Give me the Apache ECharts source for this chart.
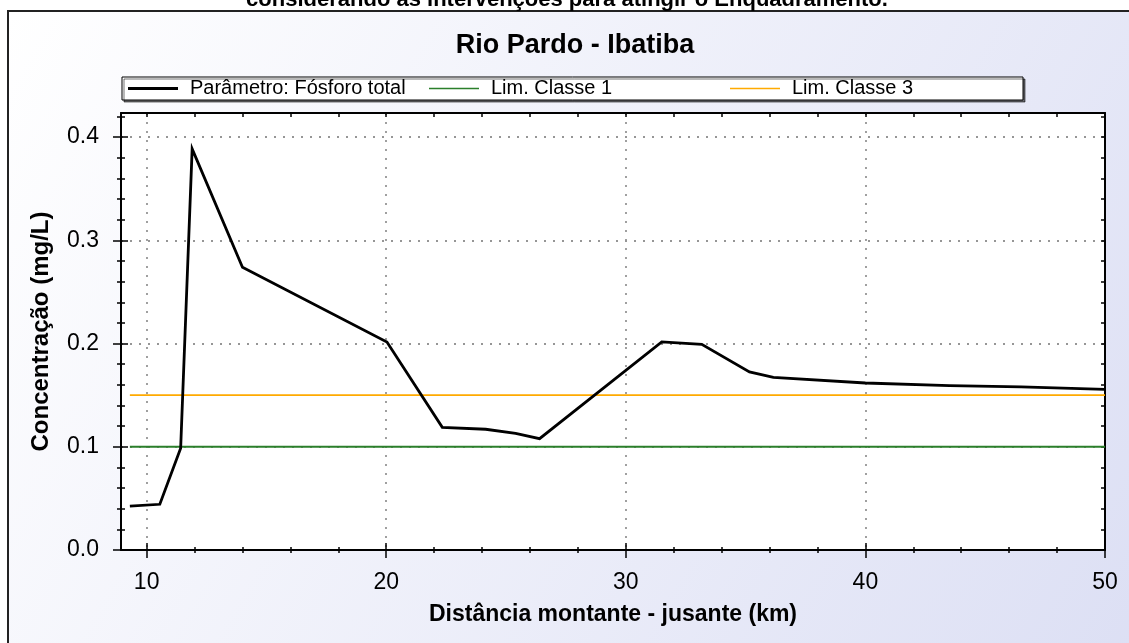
<!DOCTYPE html>
<html>
<head>
<meta charset="utf-8">
<title>Rio Pardo - Ibatiba</title>
<script src="https://cdn.jsdelivr.net/npm/echarts@6/dist/echarts.min.js"></script>
<style>
  html, body { margin: 0; padding: 0; background: #ffffff; }
  #chart { width: 1129px; height: 643px; }
</style>
</head>
<body>
<div id="chart"></div>
<script>
// Phosphorus profile along the river (distance in km, concentration in mg/L)
const distKm = [9.3, 10.55, 11.42, 11.9, 14.0, 20.03, 22.34, 24.15, 25.4, 26.4, 31.5, 33.17, 35.16, 36.16, 40.0, 43.5, 46.5, 50.0];
const fosforoTotal = [0.0426, 0.0443, 0.0985, 0.3886, 0.274, 0.2015, 0.1189, 0.117, 0.113, 0.1079, 0.2016, 0.1993, 0.1725, 0.1673, 0.1618, 0.1592, 0.158, 0.1557];

// Class limits (horizontal reference lines)
const limKm = [9.3, 50];
const limClasse1 = [0.1, 0.1];
const limClasse3 = [0.15, 0.15];

// Axis extents and tick positions
const xRange = [8.93, 50];
const yRange = [0, 0.4234];
const xMajor = [10, 20, 30, 40, 50];
const xMinor = [12, 14, 16, 18, 22, 24, 26, 28, 32, 34, 36, 38, 42, 44, 46, 48];
const xAll = [10, 12, 14, 16, 18, 20, 22, 24, 26, 28, 30, 32, 34, 36, 38, 40, 42, 44, 46, 48, 50];
const yMajor = [0, 0.1, 0.2, 0.3, 0.4];
const yMinor = [0.02, 0.04, 0.06, 0.08, 0.12, 0.14, 0.16, 0.18, 0.22, 0.24, 0.26, 0.28, 0.32, 0.34, 0.36, 0.38, 0.42];
const yAll = [0, 0.02, 0.04, 0.06, 0.08, 0.1, 0.12, 0.14, 0.16, 0.18, 0.2, 0.22, 0.24, 0.26, 0.28, 0.3, 0.32, 0.34, 0.36, 0.38, 0.4, 0.42];

const FONT = '"Liberation Sans", Arial, Helvetica, sans-serif';
const pairs = (xs, ys) => xs.map((x, i) => [x, ys[i]]);

const chart = echarts.init(document.getElementById('chart'), null, { renderer: 'canvas' });

const tickStyle = { color: '#000', width: 1.5 };
const gridLine = { show: true, lineStyle: { type: [2, 7], color: '#969696', width: 1.8 } };
const hidden = {
  type: 'value',
  axisLine: { show: false, onZero: false },
  axisTick: { show: false },
  axisLabel: { show: false },
  splitLine: { show: false }
};
function xAx(extra) {
  return Object.assign({}, hidden, { min: xRange[0], max: xRange[1], position: 'bottom' }, extra);
}
function yAx(extra) {
  return Object.assign({}, hidden, { min: yRange[0], max: yRange[1], position: 'left' }, extra);
}

const option = {
  backgroundColor: '#ffffff',
  animation: false,
  graphic: [
    {
      type: 'rect',
      z: -10,
      silent: true,
      shape: { x: 8, y: 11, width: 1140, height: 650 },
      style: {
        fill: {
          type: 'linear', x: 0, y: 0, x2: 1, y2: 1,
          colorStops: [
            { offset: 0, color: '#ffffff' },
            { offset: 1, color: '#dcdff4' }
          ]
        },
        stroke: '#222222',
        lineWidth: 2
      }
    },
    {
      type: 'text',
      z: 5,
      silent: true,
      x: 567, y: 11,
      style: {
        text: 'considerando as intervenções para atingir o Enquadramento.',
        font: 'bold 22px ' + FONT,
        fill: '#000',
        align: 'center',
        verticalAlign: 'bottom'
      }
    },
    {
      type: 'text',
      z: 5,
      silent: true,
      x: 575, y: 46,
      style: {
        text: 'Rio Pardo - Ibatiba',
        font: 'bold 27px ' + FONT,
        fill: '#000',
        align: 'center',
        verticalAlign: 'middle'
      }
    }
  ],
  legend: {
    left: 122,
    top: 77,
    orient: 'horizontal',
    selectedMode: false,
    backgroundColor: '#ffffff',
    borderColor: '#000000',
    borderWidth: 1,
    shadowColor: 'rgba(0,0,0,0.55)',
    shadowOffsetX: 2,
    shadowOffsetY: 2,
    shadowBlur: 0,
    padding: [1, 2, 1, 6],
    itemGap: 10,
    itemWidth: 50,
    itemHeight: 14,
    textStyle: {
      fontFamily: FONT,
      fontSize: 20,
      color: '#000',
      width: 229,
      lineHeight: 21,
      padding: [0, 0, 0, 7]
    },
    data: [
      { name: 'Parâmetro: Fósforo total', icon: 'path://M0,0L50,0L50,3L0,3Z', itemStyle: { color: '#000' } },
      { name: 'Lim. Classe 1', icon: 'path://M0,0L50,0L50,1.5L0,1.5Z', itemStyle: { color: '#2b7f2b' } },
      { name: 'Lim. Classe 3', icon: 'path://M0,0L50,0L50,1.5L0,1.5Z', itemStyle: { color: '#ffaa00' } }
    ]
  },
  grid: {
    left: 121, top: 113, width: 984, height: 437,
    show: true, backgroundColor: '#ffffff', borderWidth: 0,
    containLabel: false
  },
  xAxis: [
    xAx({
      axisLine: { show: true, onZero: false, lineStyle: { color: '#000', width: 2 } },
      axisTick: { show: true, customValues: xMajor, length: 8, lineStyle: tickStyle },
      axisLabel: { show: true, customValues: xMajor, margin: 21, fontSize: 23, color: '#000', fontFamily: FONT },
      splitLine: gridLine,
      name: 'Distância montante - jusante (km)',
      nameLocation: 'middle',
      nameGap: 53,
      nameTextStyle: { fontFamily: FONT, fontSize: 23, fontWeight: 'bold', color: '#000' }
    }),
    xAx({ axisTick: { show: true, inside: true, customValues: xMajor, length: 7, lineStyle: tickStyle } }),
    xAx({ axisTick: { show: true, customValues: xMinor, length: 3, lineStyle: tickStyle } }),
    xAx({ axisTick: { show: true, inside: true, customValues: xMinor, length: 3, lineStyle: tickStyle } }),
    xAx({
      position: 'top',
      axisLine: { show: true, onZero: false, lineStyle: { color: '#000', width: 2 } },
      axisTick: { show: true, inside: true, customValues: xAll, length: 4, lineStyle: tickStyle }
    })
  ],
  yAxis: [
    yAx({
      axisLine: { show: true, onZero: false, lineStyle: { color: '#000', width: 2 } },
      axisTick: { show: true, customValues: yMajor, length: 8, lineStyle: tickStyle },
      axisLabel: {
        show: true, customValues: yMajor, margin: 22, fontSize: 23, color: '#000', fontFamily: FONT,
        formatter: v => Number(v).toFixed(1)
      },
      splitLine: gridLine,
      name: 'Concentração (mg/L)',
      nameLocation: 'middle',
      nameRotate: 90,
      nameGap: 68,
      nameTextStyle: { fontFamily: FONT, fontSize: 24, fontWeight: 'bold', color: '#000' }
    }),
    yAx({ axisTick: { show: true, inside: true, customValues: yMajor, length: 7, lineStyle: tickStyle } }),
    yAx({ axisTick: { show: true, customValues: yMinor, length: 4, lineStyle: tickStyle } }),
    yAx({ axisTick: { show: true, inside: true, customValues: yMinor, length: 4, lineStyle: tickStyle } }),
    yAx({
      position: 'right',
      axisLine: { show: true, onZero: false, lineStyle: { color: '#000', width: 2 } },
      axisTick: { show: true, inside: true, customValues: yAll, length: 4, lineStyle: tickStyle }
    })
  ],
  series: [
    {
      name: 'Lim. Classe 1',
      type: 'line',
      xAxisIndex: 0, yAxisIndex: 0,
      data: pairs(limKm, limClasse1),
      symbol: 'none',
      lineStyle: { color: '#2b7f2b', width: 2 },
      itemStyle: { color: '#2b7f2b' },
      z: 3
    },
    {
      name: 'Lim. Classe 3',
      type: 'line',
      xAxisIndex: 0, yAxisIndex: 0,
      data: pairs(limKm, limClasse3),
      symbol: 'none',
      lineStyle: { color: '#ffaa00', width: 1.7 },
      itemStyle: { color: '#ffaa00' },
      z: 3
    },
    {
      name: 'Parâmetro: Fósforo total',
      type: 'line',
      xAxisIndex: 0, yAxisIndex: 0,
      data: pairs(distKm, fosforoTotal),
      symbol: 'none',
      lineStyle: { color: '#000', width: 2.8, join: 'miter' },
      itemStyle: { color: '#000' },
      z: 4
    }
  ]
};

chart.setOption(option);
</script>
</body>
</html>
